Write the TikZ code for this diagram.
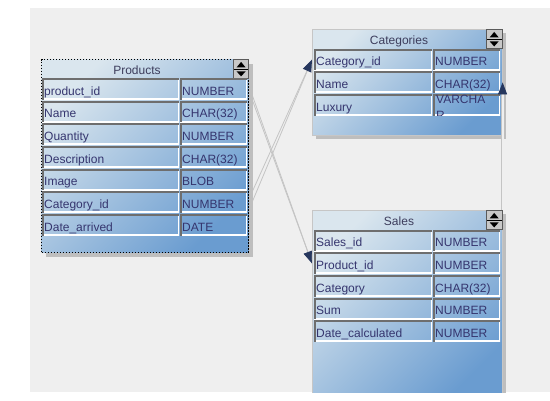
\documentclass[tikz,border=0pt]{standalone}
\usepackage{fontspec}
\setmainfont{Liberation Sans}
\usetikzlibrary{arrows.meta,shadows,backgrounds}
\definecolor{canvasgray}{HTML}{EFEFEF}
\definecolor{shadelight}{HTML}{DAE6EE}
\definecolor{shadedark}{HTML}{6A9CD0}
\definecolor{shadowgray}{HTML}{BEBEBE}
\definecolor{tableedge}{HTML}{C6C6C6}
\definecolor{edgegray}{HTML}{6E6E6E}
\definecolor{celltext}{HTML}{35356E}
\definecolor{titletext}{HTML}{3D3D5C}
\definecolor{linkgray}{HTML}{C4C4C4}
\definecolor{arrownavy}{HTML}{26375E}
\definecolor{btnfill}{HTML}{C8C8C8}
\definecolor{btnedge}{HTML}{5A5A5A}
\tikzset{
  tablebox/.style={anchor=north west, inner sep=0pt, draw=tableedge, line width=0.6pt, top color=shadelight, bottom color=shadedark, shading angle=45, drop shadow={shadow xshift=4pt, shadow yshift=-4pt, fill=shadowgray, opacity=1}},
  selected/.style={draw=black, line width=1pt, dash pattern=on 1.5pt off 1.5pt},
  tabletitle/.style={anchor=base, inner sep=0pt, text=titletext, font=\fontsize{12}{15}\selectfont},
  scrollbtn/.style={anchor=north east, minimum width=15pt, minimum height=19pt, inner sep=0pt, draw=btnedge, line width=0.8pt, fill=btnfill,
    path picture={
      \fill[black] ([shift={(-4.5,-1.5)}]path picture bounding box.center) -- ([shift={(4.5,-1.5)}]path picture bounding box.center) -- ([shift={(0,-7)}]path picture bounding box.center) -- cycle;
      \draw[black, line width=1.2pt] ([shift={(-8,0.5)}]path picture bounding box.center) -- ([shift={(8,0.5)}]path picture bounding box.center);
      \fill[black] ([shift={(-4.5,2.5)}]path picture bounding box.center) -- ([shift={(4.5,2.5)}]path picture bounding box.center) -- ([shift={(0,7.5)}]path picture bounding box.center) -- cycle;
    }},
  cell/.style={anchor=north west, text width=#1, minimum height=21pt, inner xsep=2pt, inner ysep=0pt, text height=13.5pt, text depth=1.5pt, align=left, text=celltext, font=\fontsize{12}{15}\selectfont,
    path picture={
      \draw[white, line width=3pt] (path picture bounding box.south west) -- (path picture bounding box.south east) -- (path picture bounding box.north east);
      \draw[edgegray, line width=3pt] (path picture bounding box.south west) -- (path picture bounding box.north west) -- (path picture bounding box.north east);
    }},
  link/.style={draw=linkgray, line width=0.8pt},
  linkarrow/.style={link, -{Triangle[length=12pt, width=9pt, color=arrownavy]}}
}
\begin{document}
\begin{tikzpicture}[x=1pt,y=-1pt]
\useasboundingbox (0,0) rectangle (550,400);
\begin{scope}[on background layer]
\fill[canvasgray] (30,8) rectangle (550,392);
\end{scope}
\clip (30,8) rectangle (550,392);

\node[tablebox, selected, minimum width=207pt, minimum height=193pt] (products) at (41,59) {};
\node[tabletitle] (products-title) at (137,74.5) {Products};
\node[scrollbtn] (products-btn) at (products.north east) {};
\node[cell=133pt] (prod-id) at (42,78.3) {product\_id};
\node[cell=63pt] (prod-idT) at (180,78.3) {NUMBER};
\node[cell=133pt] (prod-name) at (42,101) {Name};
\node[cell=63pt] (prod-nameT) at (180,101) {CHAR(32)};
\node[cell=133pt] (prod-qty) at (42,123.7) {Quantity};
\node[cell=63pt] (prod-qtyT) at (180,123.7) {NUMBER};
\node[cell=133pt] (prod-desc) at (42,146.3) {Description};
\node[cell=63pt] (prod-descT) at (180,146.3) {CHAR(32)};
\node[cell=133pt] (prod-img) at (42,169) {Image};
\node[cell=63pt] (prod-imgT) at (180,169) {BLOB};
\node[cell=133pt] (prod-cat) at (42,191.7) {Category\_id};
\node[cell=63pt] (prod-catT) at (180,191.7) {NUMBER};
\node[cell=133pt] (prod-date) at (42,214.3) {Date\_arrived};
\node[cell=63pt] (prod-dateT) at (180,214.3) {DATE};

\node[tablebox, minimum width=190pt, minimum height=106pt] (categories) at (312,29) {};
\node[tabletitle] (categories-title) at (399,44.3) {Categories};
\node[scrollbtn, minimum width=16pt] (categories-btn) at (categories.north east) {};
\node[cell=114pt] (cat-id) at (314,49) {Category\_id};
\node[cell=63pt] (cat-idT) at (433,49) {NUMBER};
\node[cell=114pt] (cat-name) at (314,71.7) {Name};
\node[cell=63pt] (cat-nameT) at (433,71.7) {CHAR(32)};
\node[cell=114pt] (cat-lux) at (314,94.3) {Luxury};
\node[cell=63pt] (cat-luxT) at (433,94.3) {};
\begin{scope}
\clip (cat-luxT.north west) rectangle (cat-luxT.south east);
\node[anchor=north west, inner sep=0pt, align=left, text=celltext, font=\fontsize{12}{16}\selectfont] (cat-luxV) at ([xshift=3pt,yshift=-0.5pt]cat-luxT.north west) {VARCHA\\R};
\end{scope}

\node[tablebox, minimum width=190pt, minimum height=190pt] (sales) at (312,210) {};
\node[tabletitle] (sales-title) at (399,225) {Sales};
\node[scrollbtn, minimum width=16pt] (sales-btn) at (sales.north east) {};
\node[cell=114pt] (sal-id) at (314,230) {Sales\_id};
\node[cell=63pt] (sal-idT) at (433,230) {NUMBER};
\node[cell=114pt] (sal-prod) at (314,252.7) {Product\_id};
\node[cell=63pt] (sal-prodT) at (433,252.7) {NUMBER};
\node[cell=114pt] (sal-cat) at (314,275.3) {Category};
\node[cell=63pt] (sal-catT) at (433,275.3) {CHAR(32)};
\node[cell=114pt] (sal-sum) at (314,298) {Sum};
\node[cell=63pt] (sal-sumT) at (433,298) {NUMBER};
\node[cell=114pt] (sal-date) at (314,320.7) {Date\_calculated};
\node[cell=63pt] (sal-dateT) at (433,320.7) {NUMBER};

\begin{scope}[on background layer]
\draw[link] ([yshift=7.5pt]prod-idT.east) -- ([xshift=-2pt]sal-prod.west);
\draw[linkarrow] ([yshift=2.5pt]prod-idT.east) -- ([xshift=-2pt]sal-prod.west);
\draw[link] ([yshift=-11pt]prod-catT.east) -- ([xshift=-2pt]cat-id.west);
\draw[linkarrow] (prod-catT.east) -- ([xshift=-2pt]cat-id.west);
\end{scope}
\draw[linkarrow, double=canvasgray, double distance=2pt] (sales.north east) -- (sales.north east |- cat-nameT.east);
\end{tikzpicture}
\end{document}
